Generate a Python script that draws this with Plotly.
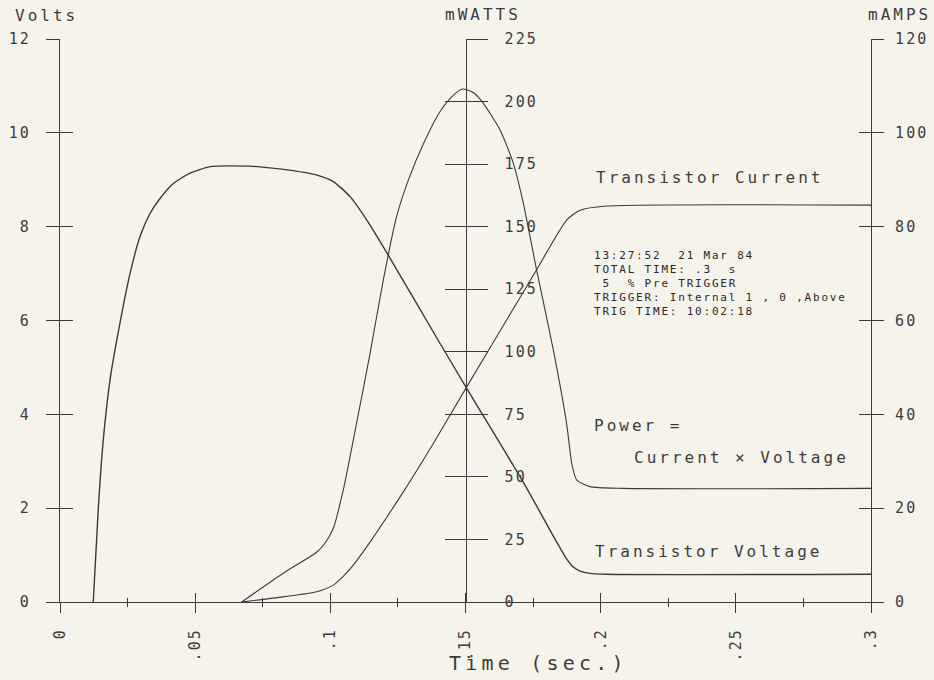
import plotly.graph_objects as go

# ---------------- data ----------------
volt_t = [0.0123, 0.0142, 0.0160, 0.0185, 0.0210, 0.0259, 0.0296, 0.0333, 0.0370,
          0.0419, 0.0481, 0.0555, 0.0703, 0.0826, 0.0950, 0.1011, 0.1073, 0.1135,
          0.1196, 0.1406, 0.1505, 0.1714, 0.1840, 0.1874, 0.1900, 0.1924, 0.1960,
          0.2022, 0.3000]
volt_v = [0.0, 2.03, 3.45, 4.73, 5.58, 7.00, 7.79, 8.28, 8.60,
          8.92, 9.14, 9.28, 9.29, 9.22, 9.10, 8.96, 8.64, 8.14,
          7.57, 5.51, 4.55, 2.55, 1.25, 0.92, 0.74, 0.66, 0.61,
          0.59, 0.59]

amp_t = [0.0672, 0.0826, 0.0950, 0.1011, 0.1048, 0.1073, 0.1135, 0.1258, 0.1381,
         0.1505, 0.1652, 0.1763, 0.1874, 0.1924, 0.2022, 0.3000]
amp_ma = [0.0, 1.1, 2.2, 3.6, 5.5, 7.0, 11.8, 22.4, 33.8,
          45.9, 60.1, 70.8, 81.4, 83.5, 84.4, 84.6]

watt_t = [0.0672, 0.0826, 0.0950, 0.0980, 0.1011, 0.1048, 0.1097, 0.1147, 0.1196,
          0.1245, 0.1290, 0.1344, 0.1406, 0.1450, 0.1489, 0.1530, 0.1566, 0.1628,
          0.1677, 0.1714, 0.1763, 0.1825, 0.1874, 0.1893, 0.1911, 0.1960, 0.2084,
          0.3000]
watt_mw = [0.0, 11.5, 20.0, 23.5, 29.5, 44.8, 71.4, 99.4, 128.7,
           154.0, 169.0, 183.0, 196.0, 202.0, 205.0, 203.5, 199.3, 188.6,
           175.3, 159.3, 132.7, 100.7, 71.4, 55.4, 48.8, 46.1, 45.4,
           45.4]

time_ticks = [0, 0.05, 0.1, 0.15, 0.2, 0.25, 0.3]
time_labels = ["0", ".05", ".1", ".15", ".2", ".25", ".3"]
volt_ticks = [0, 2, 4, 6, 8, 10, 12]
volt_labels = ["0", "2", "4", "6", "8", "10", "12"]
watt_ticks = [0, 25, 50, 75, 100, 125, 150, 175, 200, 225]
watt_labels = ["0", "25", "50", "75", "100", "125", "150", "175", "200", "225"]
amp_ticks = [0, 20, 40, 60, 80, 100, 120]
amp_labels = ["0", "20", "40", "60", "80", "100", "120"]

info_lines = [
    "13:27:52\u00a0\u00a021 Mar 84",
    "TOTAL TIME: .3\u00a0\u00a0s",
    "\u00a05\u00a0\u00a0% Pre TRIGGER",
    "TRIGGER: Internal 1 , 0 ,Above",
    "TRIG TIME: 10:02:18",
]

# ---------------- styling ----------------
W, H = 934, 680
ML, MR, MT, MB = 60, 63, 39, 78
PW, PH = W - ML - MR, H - MT - MB
BG = "#f6f3ea"
INK = "#3a3a3a"
TXT = "#3c3c3c"
FONT = "DejaVu Sans Mono"


def pxx(x):
    return (x - ML) / PW


def pxy(y):
    return (H - MB - y) / PH


line_style = dict(color=INK, shape="spline", smoothing=0.6)

fig = go.Figure()
fig.add_trace(go.Scatter(x=volt_t, y=volt_v, mode="lines", xaxis="x", yaxis="y",
                         line=dict(width=1.4, **line_style), hoverinfo="skip", showlegend=False))
fig.add_trace(go.Scatter(x=watt_t, y=watt_mw, mode="lines", xaxis="x", yaxis="y3",
                         line=dict(width=1.1, **line_style), hoverinfo="skip", showlegend=False))
fig.add_trace(go.Scatter(x=amp_t, y=amp_ma, mode="lines", xaxis="x", yaxis="y5",
                         line=dict(width=1.1, **line_style), hoverinfo="skip", showlegend=False))
# empty traces so the overlay (crossing-tick) axes are drawn
for xa, ya in [("x2", "y"), ("x", "y2"), ("x", "y4"), ("x", "y6")]:
    fig.add_trace(go.Scatter(x=[], y=[], xaxis=xa, yaxis=ya, hoverinfo="skip", showlegend=False))

common = dict(showgrid=False, zeroline=False, tickcolor=INK, linecolor=INK, linewidth=1,
              tickwidth=1, tickfont=dict(family=FONT, size=15, color=TXT), fixedrange=True,
              tickmode="array")

fig.update_layout(
    width=W, height=H,
    margin=dict(l=ML, r=MR, t=MT, b=MB),
    paper_bgcolor=BG, plot_bgcolor=BG,
    showlegend=False,
    xaxis=dict(range=[0, 0.3], domain=[0, 1], anchor="y", tickvals=time_ticks, ticktext=time_labels,
               ticks="outside", ticklen=10, tickangle=-90, showline=True, ticklabelstandoff=9,
               minor=dict(tickmode="linear", tick0=0, dtick=0.025, ticks="outside", ticklen=4,
                          tickcolor=INK, tickwidth=1),
               **common),
    xaxis2=dict(range=[0, 0.3], overlaying="x", anchor="y", side="bottom", tickvals=time_ticks,
                ticks="inside", ticklen=9, showticklabels=False, showline=False,
                minor=dict(tickmode="linear", tick0=0, dtick=0.025, ticks="inside", ticklen=4,
                           tickcolor=INK, tickwidth=1),
                **common),
    yaxis=dict(range=[0, 12], domain=[0, 1], anchor="x", side="left", tickvals=volt_ticks,
               ticktext=volt_labels, ticks="outside", ticklen=13, showline=True,
               ticklabelstandoff=12, **common),
    yaxis2=dict(range=[0, 12], overlaying="y", anchor="x", side="left", tickvals=volt_ticks,
                ticks="inside", ticklen=13, showticklabels=False, showline=False, **common),
    yaxis3=dict(range=[0, 225], overlaying="y", anchor="free", position=0.5, side="right",
                tickvals=watt_ticks, ticktext=watt_labels, ticks="outside", ticklen=21,
                showline=True, ticklabelstandoff=14, **common),
    yaxis4=dict(range=[0, 225], overlaying="y", anchor="free", position=0.5, side="right",
                tickvals=watt_ticks, ticks="inside", ticklen=21, showticklabels=False,
                showline=False, **common),
    yaxis5=dict(range=[0, 120], overlaying="y", anchor="x", side="right", tickvals=amp_ticks,
                ticktext=amp_labels, ticks="outside", ticklen=12, showline=True,
                ticklabelstandoff=8, **common),
    yaxis6=dict(range=[0, 120], overlaying="y", anchor="x", side="right", tickvals=amp_ticks,
                ticks="inside", ticklen=12, showticklabels=False, showline=False, **common),
)


def label(text, x, y, size=16, color=TXT):
    fig.add_annotation(text=text, x=pxx(x), y=pxy(y), xref="paper", yref="paper",
                       xanchor="left", yanchor="middle", align="left", showarrow=False,
                       font=dict(family=FONT, size=size, color=color))


label("Volts", 13, 16)
label("mWATTS", 443, 15)
label("mAMPS", 866, 15)
label("Transistor Current", 594, 177)
label("Power =", 592, 425)
label("Current \u00d7 Voltage", 632, 457)
label("Transistor Voltage", 593, 551)
label("Time (sec.)", 447, 663, size=20)
for i, ln in enumerate(info_lines):
    label(ln, 592, 255 + i * 14.2, size=11, color="#2a2a2a")

page_js = """
document.body.style.margin = '0';
document.body.style.background = '#f6f3ea';
var gd = document.getElementById('{plot_id}');
gd.querySelectorAll('text').forEach(function(t){
  var fs = parseFloat(t.style.fontSize) || 14;
  var ls = fs >= 19 ? 4.2 : (fs >= 16 ? 3.0 : (fs >= 14 ? 2.1 : 1.8));
  t.style.letterSpacing = ls + 'px';
});
"""

fig.write_html("out.html", config={"displayModeBar": False, "staticPlot": True},
               post_script=page_js)
